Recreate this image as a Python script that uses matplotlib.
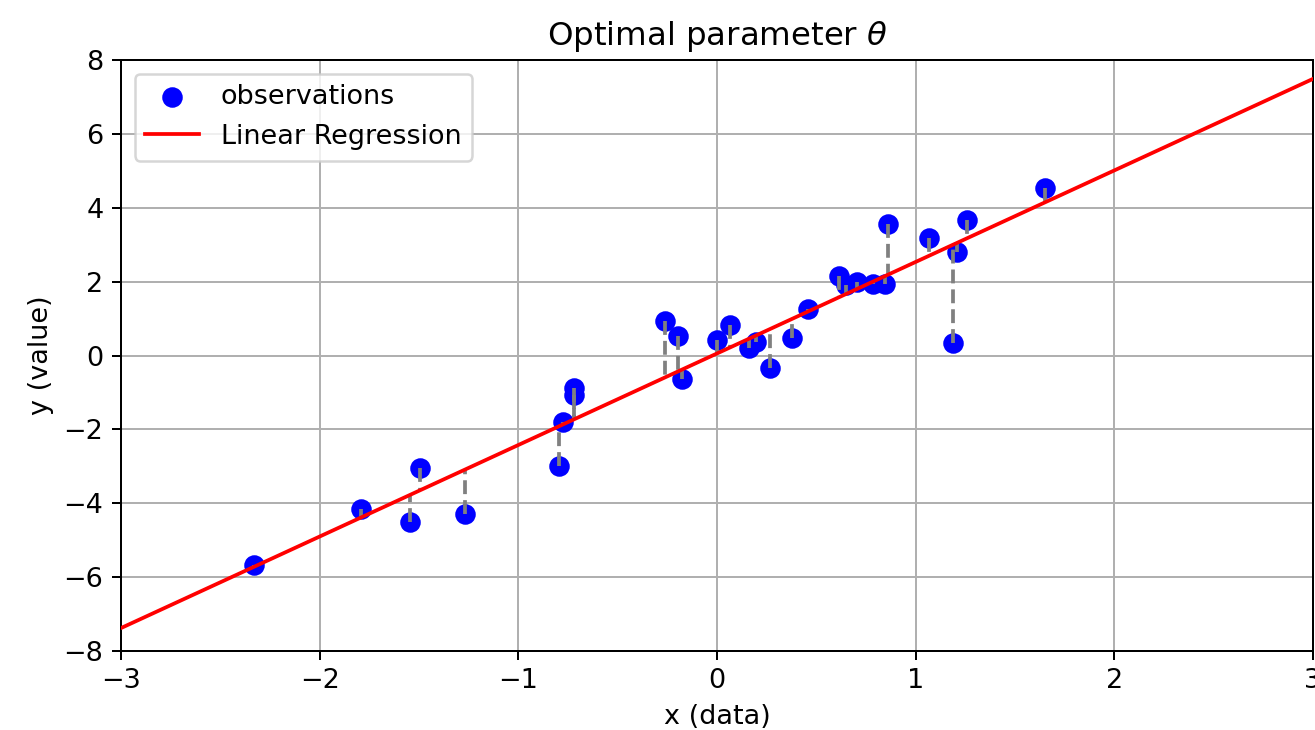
import numpy as np
import matplotlib
matplotlib.use("Agg")
import matplotlib.pyplot as plt

# observations
x_obs = [-2.33, -1.79, -1.545, -1.495, -1.268, -0.795, -0.775, -0.72, -0.72,
         -0.262, -0.196, -0.176, 0.0, 0.065, 0.161, 0.196, 0.267, 0.377, 0.458,
         0.614, 0.65, 0.705, 0.785, 0.845, 0.861, 1.067, 1.188, 1.208, 1.258, 1.651]
y_obs = [-5.67, -4.15, -4.51, -3.05, -4.29, -2.99, -1.80, -0.88, -1.08,
         0.93, 0.53, -0.64, 0.42, 0.83, 0.20, 0.37, -0.34, 0.47, 1.27,
         2.15, 1.90, 1.99, 1.94, 1.94, 3.56, 3.18, 0.34, 2.80, 3.67, 4.53]

# regression parameters
theta0 = 0.055
theta1 = 2.478

x_line = [-3, 3]

plt.rcParams['font.size'] = 10.8

DPI = 180
fig = plt.figure(figsize=(1315 / DPI, 730 / DPI), dpi=DPI)
ax = fig.add_axes([121 / 1315, 79 / 730, 1192 / 1315, 591 / 730])

ax.scatter(x_obs, y_obs, color='blue', s=52, label='observations', zorder=2)
for xi, yi in zip(x_obs, y_obs):
    ax.plot([xi, xi], [yi, theta0 + theta1 * xi], color='gray', linestyle='--', zorder=3)
ax.plot(x_line, [theta0 + theta1 * v for v in x_line], color='red', label='Linear Regression', zorder=4)

ax.set_xlim(-3, 3)
ax.set_ylim(-8, 8)
ax.set_xlabel('x (data)')
ax.set_ylabel('y (value)')
ax.set_title(r'Optimal parameter $\theta$')
ax.grid(True)
ax.set_axisbelow(True)
ax.legend(loc='upper left')

fig.savefig('out.png', dpi=DPI)
